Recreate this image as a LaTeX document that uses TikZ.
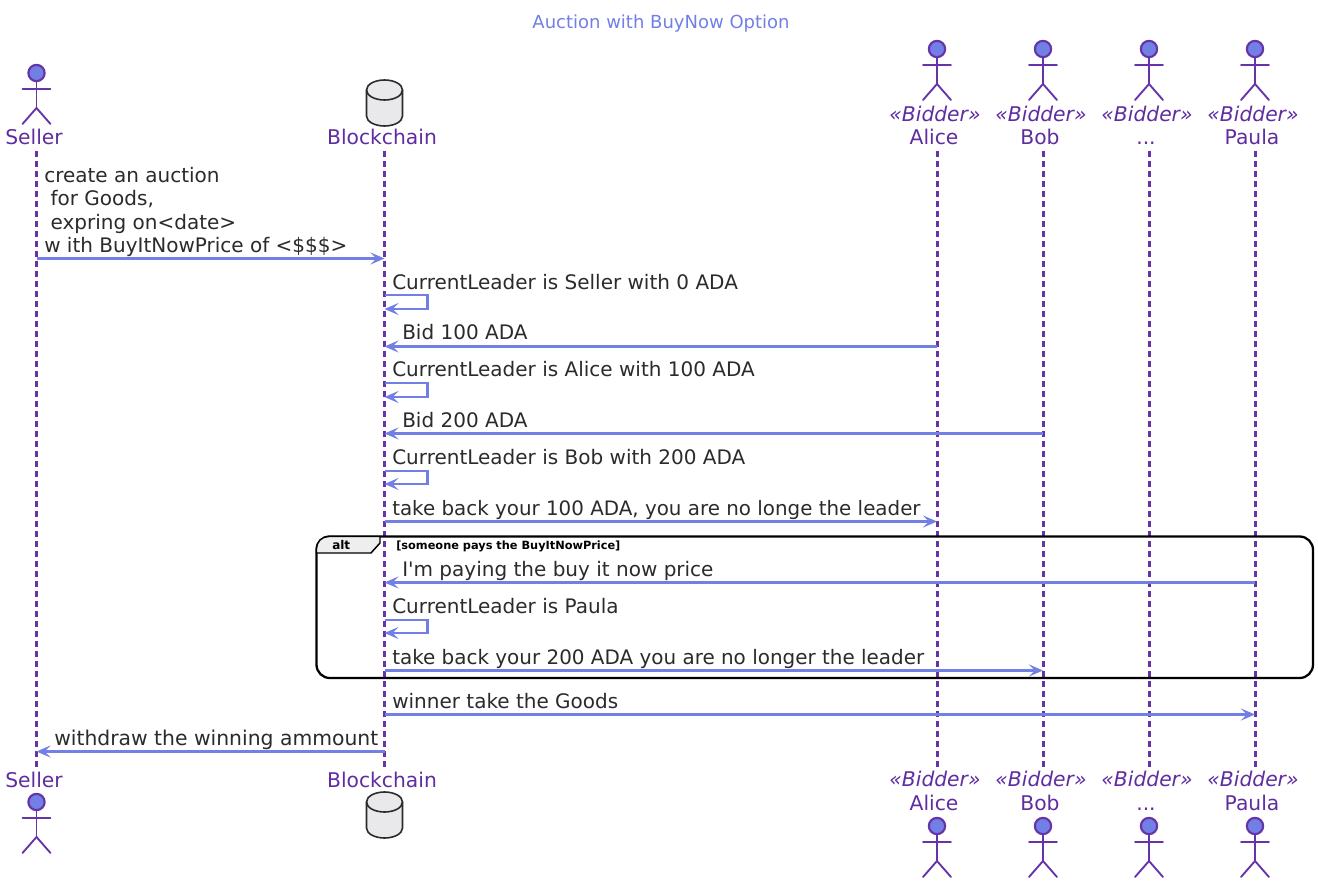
\documentclass[tikz,border=0pt]{standalone}
\usepackage{fontspec}
\setmainfont{DejaVu Sans}
\newfontfamily\plainfont{DejaVu Sans}
\usetikzlibrary{arrows.meta,calc}
\definecolor{arrowc}{HTML}{7280E6}
\definecolor{purp}{HTML}{5F2DA0}
\definecolor{lifec}{HTML}{6633A8}
\definecolor{txt}{HTML}{2B2B2B}
\definecolor{dbfill}{HTML}{E9E9EB}
\definecolor{tabfill}{HTML}{EEEEEE}
\tikzset{
  actorline/.style={draw=lifec,line width=1.4pt,line cap=round},
  actorhead/.style={circle,draw=lifec,fill=arrowc,line width=1.6pt,minimum size=12.2pt,inner sep=0pt},
  partlabel/.style={text=purp,font=\fontsize{15.2pt}{17pt}\selectfont,inner sep=0pt,anchor=base},
  stereo/.style={text=purp,font=\fontsize{15.2pt}{17pt}\selectfont\itshape,inner sep=0pt,anchor=base},
  lifeline/.style={draw=lifec,line width=2.25pt,dash pattern=on 4.5pt off 3pt},
  msgline/.style={draw=arrowc,line width=2.1pt,-{Stealth[length=10.5pt,width=9pt,inset=4.5pt]}},
  msglabel/.style={text=txt,font=\fontsize{15pt}{17.7pt}\selectfont,inner sep=0pt,anchor=base west,align=left},
  dbshape/.style={draw=txt,fill=dbfill,line width=1.2pt},
  framebox/.style={draw=black,line width=1.7pt,rounded corners=10pt},
  tabshape/.style={draw=black,fill=tabfill,line width=1.1pt},
  guard/.style={text=black,font=\fontsize{8.5pt}{10pt}\selectfont\bfseries,inner sep=0pt,anchor=base west},
  titlelabel/.style={text=arrowc,font=\fontsize{13.5pt}{15pt}\selectfont,inner sep=0pt,anchor=base}
}
\newcommand{\threedots}{...}
% \actorfig{name}{x}{head y}
\newcommand{\actorfig}[3]{%
  \node[actorhead] (#1) at (#2,#3) {};
  \coordinate (#1-hip) at (#2,#3+35);
  \draw[actorline] (#1.south) -- (#1-hip);
  \draw[actorline] (#2-14,#3+16) -- (#2+14,#3+16);
  \draw[actorline] (#2-14,#3+51) -- (#1-hip) -- (#2+14,#3+51);
}
% \dbfig{name}{x}{top y}
\newcommand{\dbfig}[3]{%
  \path[dbshape] (#2-18,#3+10) arc[start angle=180,end angle=360,x radius=18,y radius=10]
     -- (#2+18,#3+36) arc[start angle=0,end angle=180,x radius=18,y radius=10] -- cycle;
  \draw[dbshape,fill=none] (#2-18,#3+10) arc[start angle=180,end angle=0,x radius=18,y radius=10];
  \coordinate (#1) at (#2,#3);
}
% \msg{from}{to}{y}
\newcommand{\msg}[3]{\draw[msgline] (#1 |- 0,#3) -- (#2 |- 0,#3);}
% \selfmsg{who}{y1}{y2}
\newcommand{\selfmsg}[3]{\draw[msgline] (#1 |- 0,#2) -| ([xshift=32.25pt]#1 |- 0,#3) -- (#1 |- 0,#3);}
\begin{document}
\begin{tikzpicture}[x=0.75pt,y=-0.75pt]
\useasboundingbox (0,0) rectangle (1318,881);
\fill[white] (0,0) rectangle (1318,881);
\node[titlelabel] (title) at (661,29) {Auction with BuyNow Option};

% top participants
\actorfig{sellerTop}{36.5}{73}
\node[partlabel] (sellerLabelTop) at (34,144) {Seller};
\dbfig{chainTop}{384.5}{80}
\node[partlabel] (chainLabelTop) at (382,144) {Blockchain};
\foreach \nm/\hx/\lx/\lab in {alice/937/934/Alice,bob/1043/1040/Bob,dots/1149/1146/\threedots,paula/1255/1252/Paula}{
  \actorfig{\nm Top}{\hx}{49}
  \node[stereo] (\nm StereoTop) at (\lx+1,122) {«Bidder»};
  \node[partlabel] (\nm LabelTop) at (\lx,144) {\lab};
}
% bottom participants
\actorfig{sellerBot}{36.5}{802}
\node[partlabel] (sellerLabelBot) at (34,787) {Seller};
\dbfig{chainBot}{384.5}{792}
\node[partlabel] (chainLabelBot) at (382,787) {Blockchain};
\foreach \nm/\hx/\lx/\lab in {alice/937/934/Alice,bob/1043/1040/Bob,dots/1149/1146/\threedots,paula/1255/1252/Paula}{
  \actorfig{\nm Bot}{\hx}{826}
  \node[stereo] (\nm StereoBot) at (\lx+1,786) {«Bidder»};
  \node[partlabel] (\nm LabelBot) at (\lx,810) {\lab};
}
% lifelines
\foreach \nm/\hx in {seller/36.5,chain/384.5,alice/937,bob/1043,dots/1149,paula/1255}{
  \coordinate (\nm L0) at (\hx,151);
  \coordinate (\nm L1) at (\hx,768);
  \draw[lifeline] (\nm L0) -- (\nm L1);
}
% alt frame
\draw[framebox] (316.5,536.5) rectangle (1313,678);
\path[tabshape] (316.5,553) -- (316.5,548.5) arc[start angle=180,end angle=270,radius=12] -- (380,536.5) -- (380,543) -- (371,553) -- cycle;
\node[guard,font=\fontsize{9pt}{10pt}\selectfont\bfseries] (altLabel) at (332,549) {alt};
\node[guard] (altGuard) at (396,549) {[someone pays the BuyItNowPrice]};
% messages
\msg{sellerL0}{chainL0}{258.5}
\node[msglabel] (m1) at (44,182) {create an auction};
\node[msglabel] (m1b) at (44,205) {\ for Goods,};
\node[msglabel] (m1c) at (44,229) {\ expring on<date>};
\node[msglabel] (m1d) at (44,252) {w ith BuyItNowPrice of <\$\$\$>};
\selfmsg{chainL0}{295}{309}
\node[msglabel] (m2) at (392,289) {CurrentLeader is Seller with 0 ADA};
\msg{aliceL0}{chainL0}{346.5}
\node[msglabel] (m3) at (402,339) {Bid 100 ADA};
\selfmsg{chainL0}{383}{397}
\node[msglabel] (m4) at (392,376.5) {CurrentLeader is Alice with 100 ADA};
\msg{bobL0}{chainL0}{433.5}
\node[msglabel] (m5) at (402,427) {Bid 200 ADA};
\selfmsg{chainL0}{471}{484}
\node[msglabel] (m6) at (392,464.5) {CurrentLeader is Bob with 200 ADA};
\msg{chainL0}{aliceL0}{521.5}
\node[msglabel,font=\fontsize{14.9pt}{17.7pt}\selectfont] (m7) at (392,515) {take back your 100 ADA, you are no longe the leader};
\msg{paulaL0}{chainL0}{582.5}
\node[msglabel] (m8) at (402,576) {I{\plainfont '}m paying the buy it now price};
\selfmsg{chainL0}{620}{633}
\node[msglabel] (m9) at (392,613) {CurrentLeader is Paula};
\msg{chainL0}{bobL0}{670.5}
\node[msglabel,font=\fontsize{14.95pt}{17.7pt}\selectfont] (m10) at (392,664) {take back your 200 ADA you are no longer the leader};
\msg{chainL0}{paulaL0}{714.5}
\node[msglabel] (m11) at (392,708) {winner take the Goods};
\msg{chainL0}{sellerL0}{751.5}
\node[msglabel,font=\fontsize{15.25pt}{17.7pt}\selectfont] (m12) at (54,745) {withdraw the winning ammount};
\end{tikzpicture}
\end{document}
